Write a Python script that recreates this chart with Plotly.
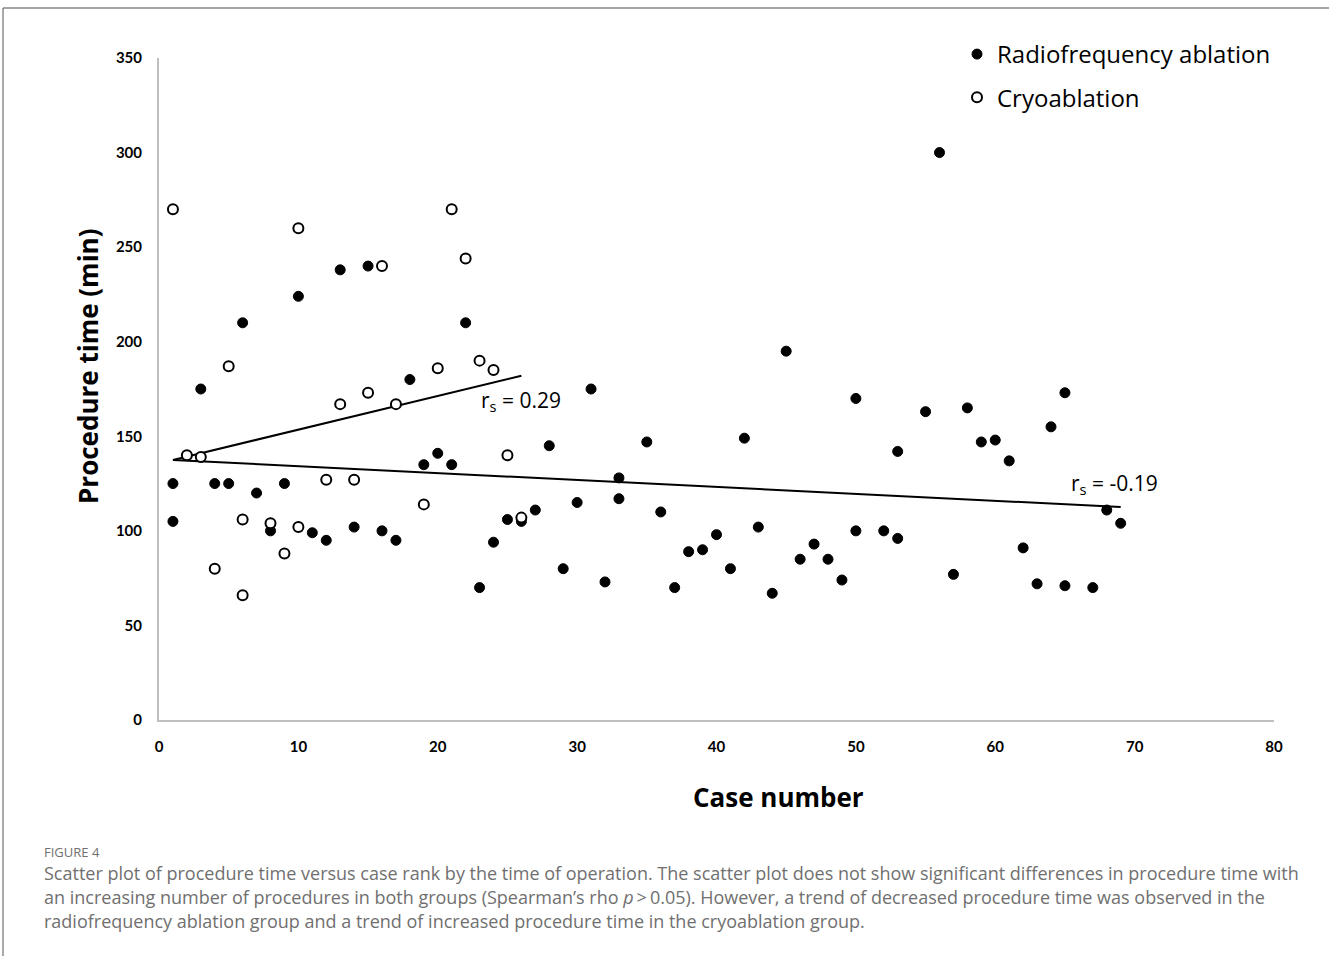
import plotly.graph_objects as go

# ---- data ----
rf_case = [1, 1, 3, 4, 5, 6, 7, 8, 9, 10, 11, 12, 13, 14, 15, 16, 17, 18, 19, 20, 21, 22,
           23, 24, 25, 26, 27, 28, 29, 30, 31, 32, 33, 33, 35, 36, 37, 38, 39, 40, 41, 42,
           43, 44, 45, 46, 47, 48, 49, 50, 50, 52, 53, 53, 55, 56, 57, 58, 59, 60, 61, 62,
           63, 64, 65, 65, 67, 68, 69]
rf_time = [125, 105, 175, 125, 125, 210, 120, 100, 125, 224, 99, 95, 238, 102, 240, 100, 95, 180, 135, 141, 135, 210,
           70, 94, 106, 105, 111, 145, 80, 115, 175, 73, 117, 128, 147, 110, 70, 89, 90, 98, 80, 149,
           102, 67, 195, 85, 93, 85, 74, 170, 100, 100, 142, 96, 163, 300, 77, 165, 147, 148, 137, 91,
           72, 155, 173, 71, 70, 111, 104]

cryo_case = [1, 2, 3, 4, 5, 6, 6, 8, 9, 10, 10, 12, 13, 14, 15, 16, 17, 19, 20, 21, 22, 23, 24, 25, 26]
cryo_time = [270, 140, 139, 80, 187, 106, 66, 104, 88, 260, 102, 127, 167, 127, 173, 240, 167, 114, 186, 270, 244, 190, 185, 140, 107]

rf_trend_x = [1, 69]
rf_trend_y = [137.5, 112.6]
cryo_trend_x = [1, 26]
cryo_trend_y = [137.5, 182]

x_ticks = [0, 10, 20, 30, 40, 50, 60, 70, 80]
y_ticks = [0, 50, 100, 150, 200, 250, 300, 350]

W, H = 1329, 956
L, R, T, B = 159, 1274, 58, 720


def px(x):
    return (x - L) / (R - L)


def py(y):
    return (B - y) / (B - T)


FONT = "Lato"

fig = go.Figure()
fig.add_trace(go.Scatter(x=rf_trend_x, y=rf_trend_y, mode="lines",
                         line=dict(color="black", width=2), showlegend=False, hoverinfo="skip"))
fig.add_trace(go.Scatter(x=cryo_trend_x, y=cryo_trend_y, mode="lines",
                         line=dict(color="black", width=2), showlegend=False, hoverinfo="skip"))
fig.add_trace(go.Scatter(x=rf_case, y=rf_time, mode="markers", name="Radiofrequency ablation",
                         legendgroup="rf",
                         marker=dict(color="black", size=10, line=dict(color="black", width=1))))
fig.add_trace(go.Scatter(x=cryo_case, y=cryo_time, mode="markers", name="Cryoablation",
                         legendgroup="cryo",
                         marker=dict(color="white", size=10, line=dict(color="black", width=2))))

fig.update_layout(
    width=W, height=H,
    margin=dict(l=L, r=W - R, t=T, b=H - B),
    paper_bgcolor="white", plot_bgcolor="white",
    font=dict(family=FONT, color="black"),
    legend=dict(x=px(957), y=py(32), xanchor="left", yanchor="top",
                font=dict(size=24, family="Open Sans", color="black"),
                traceorder="grouped", tracegroupgap=9, bgcolor="rgba(0,0,0,0)",
                itemsizing="trace"),
    xaxis=dict(range=[0, 80], tickvals=x_ticks, showgrid=False, zeroline=False,
               showline=True, linecolor="#bfbfbf", linewidth=2, ticks="",
               tickfont=dict(size=15, family=FONT, color="black", weight="bold"),
               ticklabelstandoff=12),
    yaxis=dict(range=[0, 350], tickvals=y_ticks, showgrid=False, zeroline=False,
               showline=True, linecolor="#bfbfbf", linewidth=2, ticks="",
               tickfont=dict(size=15, family=FONT, color="black", weight="bold"),
               ticklabelstandoff=12),
)

ann = [
    dict(text="<b>Procedure time (min)</b>", x=px(68), y=py(367), textangle=-90,
         font=dict(size=26, family="Open Sans", color="black")),
    dict(text="<b>Case number</b>", x=px(778), y=py(797),
         font=dict(size=26, family="Open Sans", color="black")),
    dict(text="r<sub>s</sub> = 0.29", x=px(479), y=py(401), xanchor="left",
         font=dict(size=21, family="Open Sans", color="black")),
    dict(text="r<sub>s</sub> = -0.19", x=px(1069), y=py(484), xanchor="left",
         font=dict(size=21, family="Open Sans", color="black")),
    dict(text="FIGURE 4", x=px(42), y=py(852), xanchor="left",
         font=dict(size=13, family="Open Sans", color="#707070")),
    dict(text="Scatter plot of procedure time versus case rank by the time of operation. The scatter plot does not show significant differences in procedure time with",
         x=px(42), y=py(873), xanchor="left", font=dict(size=18, family="Open Sans", color="#707070")),
    dict(text="an increasing number of procedures in both groups (Spearman\u2019s rho <i>p</i>\u2009>\u20090.05). However, a trend of decreased procedure time was observed in the",
         x=px(42), y=py(897), xanchor="left", font=dict(size=18, family="Open Sans", color="#707070")),
    dict(text="radiofrequency ablation group and a trend of increased procedure time in the cryoablation group.",
         x=px(42), y=py(921), xanchor="left", font=dict(size=18, family="Open Sans", color="#707070")),
]
for a in ann:
    a.update(xref="paper", yref="paper", showarrow=False, yanchor=a.get("yanchor", "middle"))
    fig.add_annotation(**a)

# figure frame (top and left rules)
fig.add_shape(type="line", xref="paper", yref="paper", x0=px(3), x1=px(1329), y0=py(8), y1=py(8),
              line=dict(color="#888888", width=1.5))
fig.add_shape(type="line", xref="paper", yref="paper", x0=px(3), x1=px(3), y0=py(8), y1=py(956),
              line=dict(color="#555555", width=1))

fig.write_html("out.html", config={"displayModeBar": False},
               post_script="document.body.style.margin='0';document.body.style.overflow='hidden';")
